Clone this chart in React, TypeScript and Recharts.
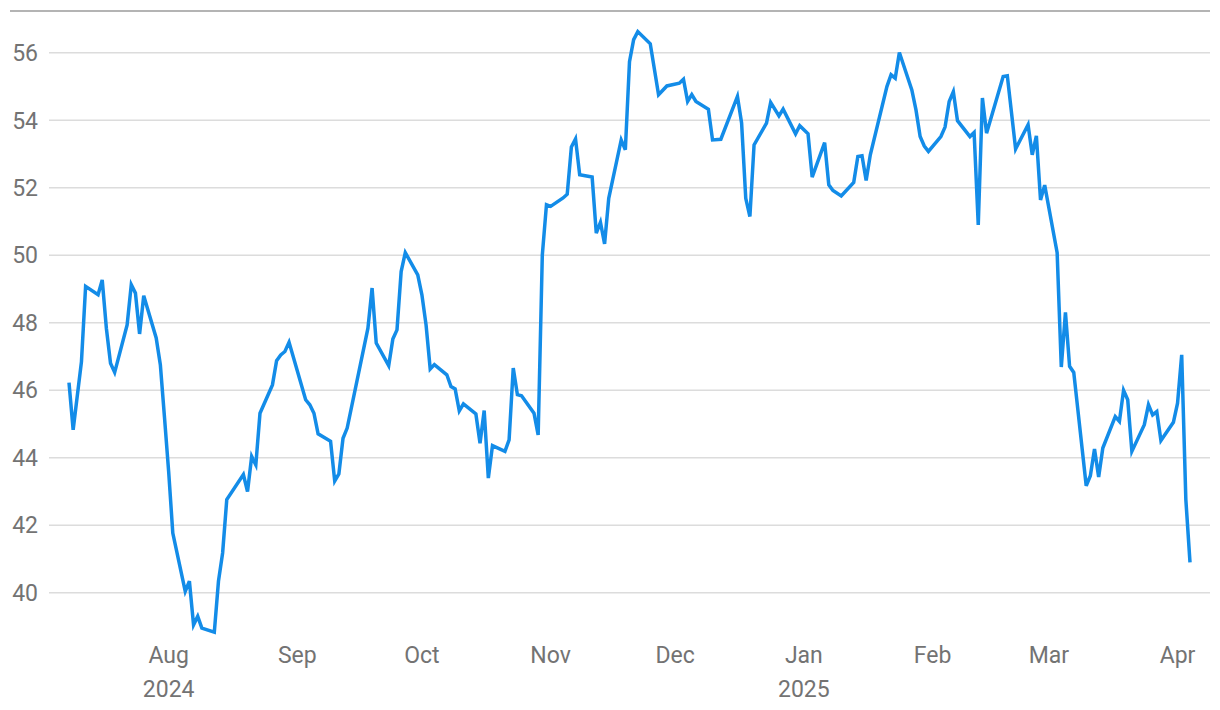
import { LineChart, Line, XAxis, YAxis, ReferenceLine } from "recharts";

const dates = [
  "2024-07-08", "2024-07-09", "2024-07-11", "2024-07-12", "2024-07-15", "2024-07-16", "2024-07-17", "2024-07-18",
  "2024-07-19", "2024-07-22", "2024-07-23", "2024-07-24", "2024-07-25", "2024-07-26", "2024-07-29", "2024-07-30",
  "2024-07-31", "2024-08-01", "2024-08-02", "2024-08-05", "2024-08-06", "2024-08-07", "2024-08-08", "2024-08-09",
  "2024-08-12", "2024-08-13", "2024-08-14", "2024-08-15", "2024-08-19", "2024-08-20", "2024-08-21", "2024-08-22",
  "2024-08-23", "2024-08-26", "2024-08-27", "2024-08-28", "2024-08-29", "2024-08-30", "2024-09-03", "2024-09-04",
  "2024-09-05", "2024-09-06", "2024-09-09", "2024-09-10", "2024-09-11", "2024-09-12", "2024-09-13", "2024-09-18",
  "2024-09-19", "2024-09-20", "2024-09-23", "2024-09-24", "2024-09-25", "2024-09-26", "2024-09-27", "2024-09-30",
  "2024-10-01", "2024-10-02", "2024-10-03", "2024-10-04", "2024-10-07", "2024-10-08", "2024-10-09", "2024-10-10",
  "2024-10-11", "2024-10-14", "2024-10-15", "2024-10-16", "2024-10-17", "2024-10-18", "2024-10-21", "2024-10-22",
  "2024-10-23", "2024-10-24", "2024-10-25", "2024-10-28", "2024-10-29", "2024-10-30", "2024-10-31", "2024-11-01",
  "2024-11-04", "2024-11-05", "2024-11-06", "2024-11-07", "2024-11-08", "2024-11-11", "2024-11-12", "2024-11-13",
  "2024-11-14", "2024-11-15", "2024-11-18", "2024-11-19", "2024-11-20", "2024-11-21", "2024-11-22", "2024-11-25",
  "2024-11-27", "2024-11-29", "2024-12-02", "2024-12-03", "2024-12-04", "2024-12-05", "2024-12-06", "2024-12-09",
  "2024-12-10", "2024-12-12", "2024-12-16", "2024-12-17", "2024-12-18", "2024-12-19", "2024-12-20", "2024-12-23",
  "2024-12-24", "2024-12-26", "2024-12-27", "2024-12-30", "2024-12-31", "2025-01-02", "2025-01-03", "2025-01-06",
  "2025-01-07", "2025-01-08", "2025-01-10", "2025-01-13", "2025-01-14", "2025-01-15", "2025-01-16", "2025-01-17",
  "2025-01-21", "2025-01-22", "2025-01-23", "2025-01-24", "2025-01-27", "2025-01-28", "2025-01-29", "2025-01-30",
  "2025-01-31", "2025-02-03", "2025-02-04", "2025-02-05", "2025-02-06", "2025-02-07", "2025-02-10", "2025-02-11",
  "2025-02-12", "2025-02-13", "2025-02-14", "2025-02-18", "2025-02-19", "2025-02-21", "2025-02-24", "2025-02-25",
  "2025-02-26", "2025-02-27", "2025-02-28", "2025-03-03", "2025-03-04", "2025-03-05", "2025-03-06", "2025-03-07",
  "2025-03-10", "2025-03-11", "2025-03-12", "2025-03-13", "2025-03-14", "2025-03-17", "2025-03-18", "2025-03-19",
  "2025-03-20", "2025-03-21", "2025-03-24", "2025-03-25", "2025-03-26", "2025-03-27", "2025-03-28", "2025-03-31",
  "2025-04-01", "2025-04-02", "2025-04-03", "2025-04-04",
];

const prices = [
  46.23, 44.83, 46.85, 49.08, 48.83, 49.27, 47.84, 46.8,
  46.53, 47.94, 49.13, 48.88, 47.67, 48.8, 47.55, 46.76,
  45.2, 43.6, 41.77, 40.04, 40.34, 39.05, 39.3, 38.95,
  38.83, 40.34, 41.18, 42.76, 43.5, 43.0, 44.04, 43.79,
  45.32, 46.16, 46.88, 47.05, 47.15, 47.42, 45.72, 45.57,
  45.32, 44.71, 44.49, 43.31, 43.52, 44.58, 44.88, 47.84,
  49.03, 47.4, 46.73, 47.52, 47.79, 49.52, 50.08, 49.42,
  48.83, 47.94, 46.63, 46.76, 46.46, 46.11, 46.04, 45.39,
  45.6, 45.3, 44.43, 45.4, 43.4, 44.36, 44.19, 44.53,
  46.66, 45.87, 45.84, 45.32, 44.68, 50.01, 51.5, 51.45,
  51.7, 51.81, 53.21, 53.45, 52.39, 52.32, 50.66, 50.98,
  50.34, 51.69, 53.42, 53.13, 55.74, 56.39, 56.63, 56.27,
  54.76, 55.02, 55.1, 55.22, 54.56, 54.76, 54.56, 54.33,
  53.42, 53.44, 54.71, 53.92, 51.69, 51.15, 53.27, 53.92,
  54.53, 54.13, 54.33, 53.6, 53.84, 53.6, 52.32, 53.34,
  52.09, 51.92, 51.76, 52.16, 52.93, 52.95, 52.22, 52.98,
  55.0, 55.35, 55.25, 56.01, 54.9, 54.31, 53.52, 53.24,
  53.08, 53.52, 53.8, 54.56, 54.85, 53.99, 53.52, 53.64,
  50.9, 54.66, 53.62, 55.3, 55.32, 53.15, 53.87, 52.98,
  53.54, 51.64, 52.08, 50.08, 46.69, 48.31, 46.71, 46.53,
  43.17, 43.47, 44.26, 43.43, 44.29, 45.22, 45.08, 46.0,
  45.72, 44.19, 44.98, 45.57, 45.27, 45.37, 44.51, 45.05,
  45.62, 47.05, 42.76, 40.9,
];

const monthTicks = [
  "2024-08-01", "2024-09-01", "2024-10-01", "2024-11-01", "2024-12-01",
  "2025-01-01", "2025-02-01", "2025-03-01", "2025-04-01",
];
const monthNames = ["Jan", "Feb", "Mar", "Apr", "May", "Jun", "Jul", "Aug", "Sep", "Oct", "Nov", "Dec"];
const yearLabelMonths = ["2024-08-01", "2025-01-01"];
const priceTicks = [40, 42, 44, 46, 48, 50, 52, 54, 56];

const toTime = (d: string) => Date.parse(d + "T00:00:00Z");

const data = dates.map((d, i) => ({ t: toTime(d), price: prices[i] }));

const FONT = "Roboto, 'Liberation Sans Narrow', sans-serif";
const TEXT = "#737373";

function MonthTick(props: any) {
  const { x, y, payload } = props;
  const dt = new Date(payload.value);
  const showYear = yearLabelMonths.map(toTime).includes(payload.value);
  return (
    <g>
      <text x={x} y={y + 23} textAnchor="middle" fill={TEXT} fontSize={23} fontFamily={FONT}>
        {monthNames[dt.getUTCMonth()]}
      </text>
      {showYear && (
        <text x={x} y={y + 57} textAnchor="middle" fill={TEXT} fontSize={23} fontFamily={FONT}>
          {dt.getUTCFullYear()}
        </text>
      )}
    </g>
  );
}

export default function App() {
  return (
    <div style={{ position: "fixed", left: 0, top: 0, width: 1220, height: 710, background: "#fff" }}>
      <div
        style={{
          position: "absolute",
          left: 10,
          top: 10,
          width: 1200,
          height: 2,
          background: "#b4b4b4",
        }}
      />
      <LineChart width={1220} height={710} data={data} margin={{ top: 10, right: 10, left: 0, bottom: 0 }}>
        <XAxis
          dataKey="t"
          type="number"
          scale="time"
          domain={[toTime(dates[0]), toTime(dates[dates.length - 1])]}
          ticks={monthTicks.map(toTime)}
          tick={<MonthTick />}
          padding={{ left: 20, right: 20 }}
          axisLine={false}
          tickLine={false}
          tickSize={0}
          tickMargin={0}
          height={70}
          interval={0}
        />
        <YAxis
          type="number"
          domain={[38.6, 57.27]}
          ticks={priceTicks}
          axisLine={false}
          tickLine={false}
          tickSize={0}
          tickMargin={11}
          width={49}
          tick={{ fill: TEXT, fontSize: 23, fontFamily: FONT }}
          allowDataOverflow
        />
        {/* horizontal grid lines, only at the price ticks */}
        {priceTicks.map((v) => (
          <ReferenceLine key={v} y={v} stroke="#dcdcdc" strokeWidth={1.5} />
        ))}
        <Line
          type="linear"
          dataKey="price"
          stroke="#138ce8"
          strokeWidth={3.5}
          dot={false}
          isAnimationActive={false}
        />
      </LineChart>
    </div>
  );
}
